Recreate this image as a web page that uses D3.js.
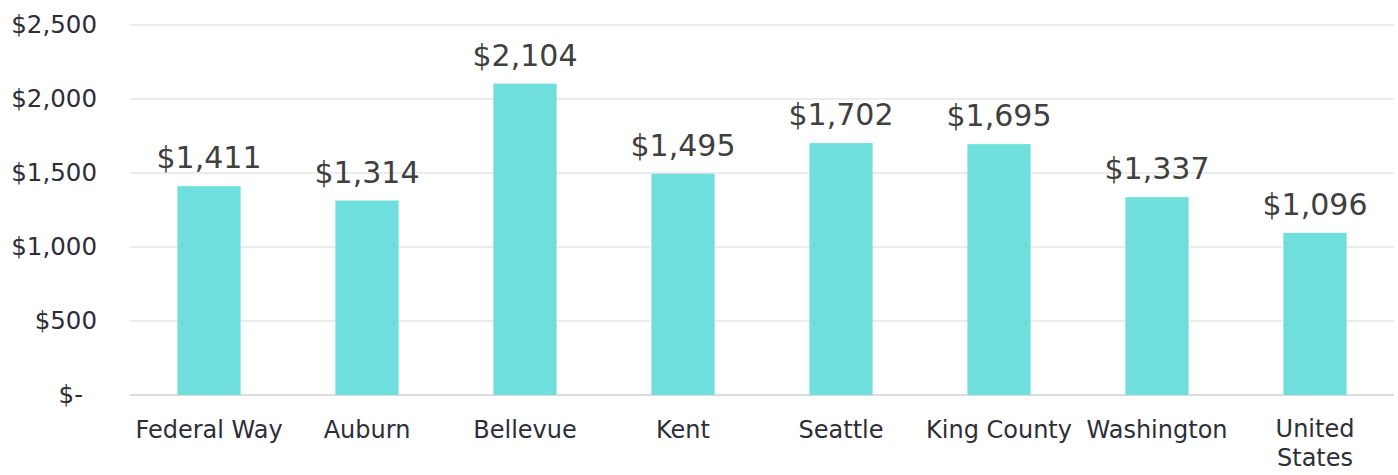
<!DOCTYPE html>
<html lang="en">
<head>
<meta charset="utf-8">
<title>Median Rent</title>
<script src="https://d3js.org/d3.v7.min.js"></script>
<style>
  body { margin: 0; background: #fff; }
  text { font-family: "DejaVu Sans", sans-serif; }
</style>
</head>
<body>
<script>
"use strict";

// data
const categories = ["Federal Way", "Auburn", "Bellevue", "Kent", "Seattle", "King County", "Washington", "United States"];
const values = [1411, 1314, 2104, 1495, 1702, 1695, 1337, 1096];
const yTicks = [0, 500, 1000, 1500, 2000, 2500];

const w = 1398, h = 475;
const margin = {top: 25, right: 4, bottom: 80, left: 130};

const svg = d3.select("body").append("svg")
  .attr("width", w)
  .attr("height", h);

const x = d3.scaleBand()
  .domain(categories)
  .range([margin.left, w - margin.right])
  .paddingInner(0.6)
  .paddingOuter(0.3);

const y = d3.scaleLinear()
  .domain([0, 2500])
  .range([h - margin.bottom, margin.top]);

const fmt = d3.format(",");

// gridlines
svg.append("g")
  .selectAll("line")
  .data(yTicks)
  .enter()
  .append("line")
  .attr("x1", margin.left)
  .attr("x2", w - margin.right)
  .attr("y1", d => y(d))
  .attr("y2", d => y(d))
  .style("stroke", d => d === 0 ? "#d0d0d0" : "#d9d9d9")
  .style("stroke-width", d => d === 0 ? 1.5 : 1);

// y axis labels
const yAxis = svg.append("g")
  .attr("transform", "translate(97,0)")
  .call(d3.axisLeft(y).tickValues(yTicks).tickSize(0).tickPadding(0)
    .tickFormat(d => d === 0 ? "$-" : "$" + fmt(d)));
yAxis.select(".domain").remove();
yAxis.selectAll("text")
  .style("font-family", "'DejaVu Sans', sans-serif")
  .style("font-size", "24.5px")
  .style("fill", "#2e2e38")
  .attr("dx", d => d === 0 ? -14 : 0);

// bars
svg.append("g")
  .selectAll("rect")
  .data(values)
  .enter()
  .append("rect")
  .attr("x", (d, i) => x(categories[i]))
  .attr("width", x.bandwidth())
  .attr("y", d => y(d))
  .attr("height", d => y(0) - y(d))
  .style("fill", "#6edfdc");

// value labels
svg.append("g")
  .selectAll("text")
  .data(values)
  .enter()
  .append("text")
  .attr("x", (d, i) => x(categories[i]) + x.bandwidth() / 2)
  .attr("y", d => y(d) - 18)
  .attr("text-anchor", "middle")
  .style("font-size", "30px")
  .style("fill", "#404040")
  .text(d => "$" + fmt(d));

// category labels
const xAxis = svg.append("g")
  .attr("transform", "translate(0," + (h - margin.bottom) + ")")
  .call(d3.axisBottom(x).tickSize(0).tickPadding(0));
xAxis.select(".domain").remove();
xAxis.selectAll("text")
  .style("font-family", "'DejaVu Sans', sans-serif")
  .style("font-size", "24px")
  .style("fill", "#2e2e38")
  .attr("dy", null)
  .attr("y", 43)
  .each(function(d) {
    const t = d3.select(this);
    if (d.length > 12) {
      const words = d.split(" ");
      t.text(null);
      words.forEach((wd, k) => {
        t.append("tspan")
          .attr("x", 0)
          .attr("y", 42 + k * 29)
          .text(wd);
      });
    }
  });
</script>
</body>
</html>
